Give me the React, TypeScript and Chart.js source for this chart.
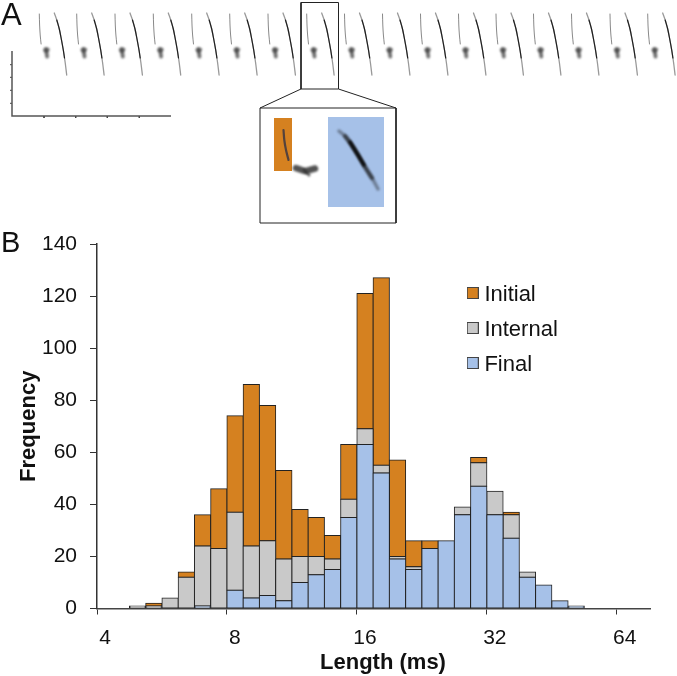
import React, { useEffect, useRef } from "react";
import { Chart, registerables } from "chart.js";

Chart.register(...registerables);

// ---------- Panel B data (bins of 1/8 octave, starting at the 3rd bin above 4 ms) ----------
const binsPerOctave = 8;
const firstBinIndex = 2;
const finalCounts = [0, 0, 0, 0, 1, 0, 7, 4, 5, 3, 10, 13, 15, 35, 63, 52, 19, 15, 23, 26, 36, 47, 36, 27, 12, 9, 3, 1];
const internalCounts = [1, 1, 4, 12, 23, 23, 30, 20, 21, 16, 10, 7, 4, 7, 6, 3, 1, 1, 0, 0, 3, 9, 9, 9, 2, 0, 0, 0];
const initialCounts = [0, 1, 0, 2, 12, 23, 37, 62, 52, 34, 18, 15, 9, 21, 52, 72, 37, 10, 3, 0, 0, 2, 0, 1, 0, 0, 0, 0];
const xTickValues = [4, 8, 16, 32, 64];
const yTickMax = 140;
const xMax = 76.4;

// ---------- Panel A data (spectrogram traces) ----------
type P = { x: number; y: number };
const onsets = [39.3, 76.7, 115, 153.3, 191.7, 229.7, 268, 306.7, 344.5, 382.5, 420.5, 458.5, 496, 533.5, 571.5, 610, 647.7];
const initialTrace: P[] = [{ x: 0, y: 14 }, { x: 0.3, y: 25 }, { x: 0.9, y: 35 }, { x: 1.8, y: 44 }];
const blobWide: P[] = [{ x: 5.5, y: 50 }, { x: 7, y: 51 }, { x: 8.8, y: 49.5 }];
const blobTail: P[] = [{ x: 6.8, y: 49 }, { x: 7.3, y: 53 }, { x: 7.8, y: 56.5 }];
const finalTrace: P[] = [{ x: 15, y: 13 }, { x: 17.5, y: 20 }, { x: 20, y: 29 }, { x: 22, y: 39 }, { x: 24, y: 50 }, { x: 25.8, y: 62 }, { x: 27.4, y: 75 }];
const finalCore: P[] = [{ x: 17.5, y: 20 }, { x: 20, y: 29 }, { x: 22, y: 39 }, { x: 24, y: 50 }, { x: 25.2, y: 58 }];

const selectionBox: P[] = [{ x: 301, y: 2.5 }, { x: 301, y: 89 }, { x: 338.5, y: 89 }, { x: 338.5, y: 2.5 }, { x: 301, y: 2.5 }];
const connectorLeft: P[] = [{ x: 301, y: 89 }, { x: 260, y: 108 }];
const connectorRight: P[] = [{ x: 338.5, y: 89 }, { x: 396, y: 108 }];
const insetBox: P[] = [{ x: 260, y: 108 }, { x: 396, y: 108 }, { x: 396, y: 223 }, { x: 260, y: 223 }, { x: 260, y: 108 }];
const insetInitialPatch: P[] = [{ x: 274, y: 118 }, { x: 292, y: 118 }, { x: 292, y: 171 }, { x: 274, y: 171 }, { x: 274, y: 118 }];
const insetFinalPatch: P[] = [{ x: 328, y: 117 }, { x: 384, y: 117 }, { x: 384, y: 207 }, { x: 328, y: 207 }, { x: 328, y: 117 }];
const insetInitial: P[] = [{ x: 283.5, y: 130 }, { x: 284.3, y: 140 }, { x: 286, y: 150 }, { x: 288.5, y: 160 }];
const insetBlobWide: P[] = [{ x: 296, y: 168 }, { x: 305, y: 171 }, { x: 315, y: 168.5 }];
const insetBlobTail: P[] = [{ x: 304, y: 170 }, { x: 309, y: 175 }];
const insetFinal: P[] = [{ x: 339, y: 131 }, { x: 345, y: 136 }, { x: 351, y: 144 }, { x: 358, y: 155 }, { x: 365, y: 167 }, { x: 372, y: 178 }, { x: 378, y: 189 }];
const insetFinalMid: P[] = [{ x: 345, y: 136 }, { x: 351, y: 144 }, { x: 358, y: 155 }, { x: 365, y: 167 }, { x: 372, y: 178 }];
const insetFinalCore: P[] = [{ x: 350, y: 142 }, { x: 358, y: 155 }, { x: 364, y: 165 }];
const axisL: P[] = [{ x: 12, y: 51 }, { x: 12, y: 116 }, { x: 171, y: 116 }];
const axisXTicks = [44, 75.7, 107.3, 139.3];
const axisYTicks = [64.7, 77.3, 90.3, 103.3];

const ORANGE = "#D58120";
const GRAY = "#C9C9C9";
const BLUE = "#A6C1E8";
const EDGE = "#222222";
const FONT = "'Liberation Sans', Arial, sans-serif";

const gap: P = { x: NaN, y: NaN };

function repeated(template: P[]): P[] {
  return onsets.flatMap((o) => [...template.map((p) => ({ x: o + p.x, y: p.y })), gap]);
}

function ln(data: P[], color: string, width: number, extra: object = {}) {
  return { data, borderColor: color, borderWidth: width, pointRadius: 0, showLine: true, tension: 0, fill: false, ...extra };
}

function trace(data: P[], color: string, width: number, blur: number) {
  return ln(data, color, width, { blur, tension: 0.3, borderCapStyle: "round", borderJoinStyle: "round" });
}

// 12px box drawn at the top of a 16px-high swatch, so it sits slightly above the label's centre.
function swatch(color: string): HTMLCanvasElement {
  const c = document.createElement("canvas");
  c.width = 12;
  c.height = 16;
  const g = c.getContext("2d")!;
  g.fillStyle = color;
  g.fillRect(0, 0, 12, 12);
  g.strokeStyle = "#444";
  g.lineWidth = 1;
  g.strokeRect(0.5, 0.5, 11, 11);
  return c;
}

const placeLegend = {
  id: "placeLegend",
  afterLayout(chart: any) {
    const l = chart.legend;
    if (!l) return;
    l.left = 459;
    l.right = 600;
    l.top = 271;
    l.bottom = 400;
  },
};

const softTraces = {
  id: "softTraces",
  beforeDatasetDraw(chart: any, args: any) {
    const blur = chart.data.datasets[args.index].blur;
    if (blur) {
      chart.ctx.save();
      chart.ctx.filter = `blur(${blur}px)`;
    }
  },
  afterDatasetDraw(chart: any, args: any) {
    if (chart.data.datasets[args.index].blur) chart.ctx.restore();
  },
};

export default function App() {
  const topRef = useRef<HTMLCanvasElement>(null);
  const histRef = useRef<HTMLCanvasElement>(null);

  useEffect(() => {
    const centers = finalCounts.map((_, i) => 4 * Math.pow(2, (i + firstBinIndex + 0.5) / binsPerOctave));
    const pts = (vals: number[]) => vals.map((y, i) => ({ x: centers[i], y })).filter((p) => p.y > 0);
    const swatches: Record<string, HTMLCanvasElement> = {
      Initial: swatch(ORANGE),
      Internal: swatch(GRAY),
      Final: swatch(BLUE),
    };

    const bar = (label: string, vals: number[], color: string) => ({
      label,
      data: pts(vals),
      backgroundColor: color,
      borderColor: EDGE,
      borderWidth: 1,
      borderSkipped: false,
      inflateAmount: 0.5,
      barPercentage: 1,
      categoryPercentage: 1,
    });

    const hist = new Chart(histRef.current!, {
      type: "bar",
      data: {
        datasets: [
          bar("Final", finalCounts, BLUE),
          bar("Internal", internalCounts, GRAY),
          bar("Initial", initialCounts, ORANGE),
        ] as any,
      },
      plugins: [placeLegend],
      options: {
        responsive: false,
        animation: false,
        devicePixelRatio: 1,
        layout: { padding: { left: 0, right: 27, top: 244, bottom: 0 } },
        plugins: {
          tooltip: { enabled: false },
          legend: {
            position: "chartArea",
            align: "start",
            reverse: true,
            labels: {
              usePointStyle: true,
              pointStyleWidth: 1.4,
              boxHeight: 12,
              padding: 13,
              color: "#111",
              font: { family: FONT, size: 22 },
              generateLabels(chart: any) {
                return Chart.defaults.plugins.legend.labels
                  .generateLabels(chart)
                  .map((it: any) => ({ ...it, pointStyle: swatches[it.text] }));
              },
            },
          },
        },
        scales: {
          x: {
            type: "logarithmic",
            min: 4,
            max: xMax,
            offset: false,
            stacked: true,
            afterFit(s: any) {
              s.height = 67.5;
            },
            afterBuildTicks(s: any) {
              s.ticks = xTickValues.map((value) => ({ value }));
            },
            afterUpdate(s: any) {
              // the axis title sits right of the axis centre in the reference
              if (s.__shifted) return;
              s.__shifted = true;
              const draw = s.drawTitle;
              s.drawTitle = function () {
                const l = this.left;
                this.left = l + 19;
                draw.call(this);
                this.left = l;
              };
            },
            border: { color: "#444", width: 1.5 },
            grid: { offset: false, drawOnChartArea: false, drawTicks: true, tickLength: 6, tickColor: "#333", tickWidth: 1 },
            ticks: {
              autoSkip: false,
              maxRotation: 0,
              minRotation: 0,
              padding: 11,
              labelOffset: 8,
              color: "#111",
              font: { family: FONT, size: 21 },
              callback: (v: any) => String(v),
            },
            title: {
              display: true,
              text: "Length (ms)",
              color: "#111",
              font: { family: FONT, size: 22, weight: "bold" },
              padding: { top: 0, bottom: 0 },
            },
          },
          y: {
            min: 0,
            max: yTickMax,
            stacked: true,
            afterFit(s: any) {
              s.width = 97;
            },
            border: { color: "#333", width: 1.5 },
            grid: { drawOnChartArea: false, drawTicks: true, tickLength: 7, tickColor: "#333", tickWidth: 1 },
            ticks: {
              stepSize: 20,
              padding: 13,
              color: "#111",
              font: { family: FONT, size: 21 },
            },
            title: {
              display: true,
              text: "Frequency",
              color: "#111",
              font: { family: FONT, size: 22, weight: "bold" },
              padding: { top: 16, bottom: 0 },
            },
          },
        },
      } as any,
    });

    const tickSegs = [
      ...axisXTicks.flatMap((x) => [{ x, y: 116 }, { x, y: 118 }, gap]),
      ...axisYTicks.flatMap((y) => [{ x: 10, y }, { x: 12, y }, gap]),
    ];

    const top = new Chart(topRef.current!, {
      type: "scatter",
      data: {
        datasets: [
          ln(selectionBox, "#222", 1),
          ln(connectorLeft, "#222", 1),
          ln(connectorRight, "#222", 1),
          ln(insetBox, "#222", 1),
          ln(axisL, "#555", 1.5),
          ln(tickSegs, "#444", 1),
          trace(repeated(finalCore), "rgba(0,0,0,0.8)", 1.2, 0.35),
          trace(repeated(finalTrace), "rgba(0,0,0,0.4)", 1.3, 0.4),
          trace(repeated(initialTrace), "rgba(40,40,40,0.55)", 1, 0.35),
          trace(repeated(blobWide), "rgba(50,50,50,0.6)", 3.5, 0.9),
          trace(repeated(blobTail), "rgba(50,50,50,0.7)", 3.8, 0.9),
          trace(insetFinalCore, "rgba(0,0,0,0.85)", 3.2, 1),
          trace(insetFinalMid, "rgba(20,20,20,0.6)", 4, 1),
          trace(insetFinal, "rgba(30,30,30,0.4)", 3.5, 1),
          trace(insetInitial, "rgba(40,45,70,0.75)", 2.2, 0.7),
          trace(insetBlobWide, "rgba(40,40,40,0.8)", 6.5, 1.3),
          trace(insetBlobTail, "rgba(40,40,40,0.7)", 3, 1),
          ln(insetInitialPatch, ORANGE, 0, { fill: "shape", backgroundColor: ORANGE }),
          ln(insetFinalPatch, BLUE, 0, { fill: "shape", backgroundColor: BLUE }),
        ] as any,
      },
      plugins: [softTraces],
      options: {
        responsive: false,
        animation: false,
        devicePixelRatio: 1,
        layout: { padding: 0 },
        plugins: { legend: { display: false }, tooltip: { enabled: false } },
        scales: {
          x: { type: "linear", min: 0, max: 677, display: false },
          y: { type: "linear", min: 0, max: 240, reverse: true, display: false },
        },
      } as any,
    });

    return () => {
      hist.destroy();
      top.destroy();
    };
  }, []);

  const letter: React.CSSProperties = {
    position: "absolute",
    left: 1,
    fontFamily: FONT,
    color: "#111",
  };

  return (
    <div style={{ position: "absolute", left: 0, top: 0, width: 677, height: 676, background: "#fff", overflow: "hidden" }}>
      <canvas ref={histRef} width={677} height={676} style={{ position: "absolute", left: 0, top: 0 }} />
      <canvas ref={topRef} width={677} height={240} style={{ position: "absolute", left: 0, top: 0 }} />
      <div style={{ ...letter, top: -1, fontSize: 31, lineHeight: "31px" }}>A</div>
      <div style={{ ...letter, top: 228, fontSize: 29, lineHeight: "29px" }}>B</div>
    </div>
  );
}
